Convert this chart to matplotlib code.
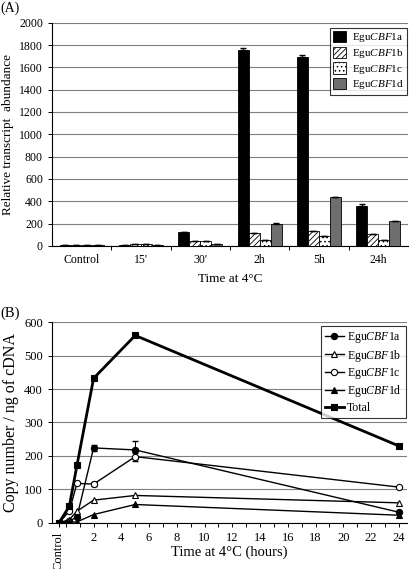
"""
Two-panel figure: EguCBF1 transcript levels during cold exposure.

(A) relative transcript abundance as grouped bars
(B) copy number per ng cDNA as lines over time
"""

import matplotlib.pyplot as plt
import numpy as np


# 1. Fonts

plt.rcParams["font.family"] = ["Liberation Serif", "DejaVu Serif"]
plt.rcParams["mathtext.fontset"] = "custom"
plt.rcParams["mathtext.rm"] = "Liberation Serif"
plt.rcParams["mathtext.it"] = "Liberation Serif:italic"
plt.rcParams["hatch.linewidth"] = 0.6


# 2. Data, panel A

time_labels = ["Control", "15'", "30'", "2h", "5h", "24h"]

gene_labels = [
    r"Egu$\it{CBF}$1a",
    r"Egu$\it{CBF}$1b",
    r"Egu$\it{CBF}$1c",
    r"Egu$\it{CBF}$1d",
]

abundance_1a = [3, 6, 125, 1760, 1690, 360]
abundance_1b = [3, 15, 40, 115, 130, 105]
abundance_1c = [3, 15, 45, 55, 90, 55]
abundance_1d = [3, 8, 15, 200, 435, 225]

error_1a = [0, 0, 0, 15, 25, 15]
error_1b = [0, 0, 0, 0, 0, 0]
error_1c = [0, 0, 0, 0, 0, 0]
error_1d = [0, 0, 0, 5, 6, 0]


# 3. Data, panel B

hours = [-0.5, 0.25, 0.8, 2, 5, 24]

copies_1a = [0, 5, 18, 224, 218, 32]
copies_1b = [0, 10, 35, 68, 82, 60]
copies_1c = [0, 35, 118, 116, 198, 107]
copies_1d = [0, 2, 3, 25, 55, 23]
copies_total = [0, 50, 172, 432, 560, 230]

copies_err_1a = [0, 0, 0, 10, 28, 0]
copies_err_1c = [0, 0, 0, 6, 12, 0]


# 4. Figure layout

fig = plt.figure(figsize=(4.11, 5.69), dpi=100)

ax_a = fig.add_axes([0.1265, 0.568, 0.866, 0.392])
ax_b = fig.add_axes([0.1265, 0.081, 0.864, 0.353])


# 5. Panel A: grouped bars

x = np.arange(len(time_labels))
bar_width = 0.185

bar_series = [
    (abundance_1a, error_1a, dict(facecolor="black", hatch=None)),
    (abundance_1b, error_1b, dict(facecolor="white", hatch="//////")),
    (abundance_1c, error_1c, dict(facecolor="white", hatch="....")),
    (abundance_1d, error_1d, dict(facecolor="#6e6e6e", hatch=None)),
]

for i, (values, errors, style) in enumerate(bar_series):
    positions = x + (i - 1.5) * bar_width
    ax_a.bar(
        positions,
        values,
        width=bar_width,
        edgecolor="black",
        linewidth=0.6,
        label=gene_labels[i],
        zorder=3,
        **style
    )
    upper = np.array(errors)
    ax_a.errorbar(
        positions,
        values,
        yerr=[np.zeros_like(upper), upper],
        fmt="none",
        ecolor="black",
        elinewidth=0.8,
        capsize=2.5,
        zorder=4
    )

ax_a.set_xlim(-0.5, 5.5)
ax_a.set_ylim(0, 2000)
ax_a.set_yticks(np.arange(0, 2001, 200))
ax_a.set_xticks(x)
ax_a.set_xticklabels(time_labels)
ax_a.tick_params(axis="x", length=0, pad=6, labelsize=8.5)
ax_a.set_xticks(np.arange(0.5, 5.5, 1), minor=True)
ax_a.tick_params(axis="x", which="minor", length=3, width=0.7)
ax_a.tick_params(axis="y", length=3, width=0.7, labelsize=8.5)

ax_a.grid(axis="y", color="#7f7f7f", linewidth=0.8, zorder=0)
ax_a.set_axisbelow(True)

for side in ["top", "right"]:
    ax_a.spines[side].set_visible(False)
ax_a.spines["left"].set_linewidth(0.8)
ax_a.spines["bottom"].set_linewidth(0.8)

ax_a.set_xlabel("Time at 4°C", fontsize=9.5, labelpad=5)
ax_a.set_ylabel("Relative transcript  abundance", fontsize=9.5)

legend_a = ax_a.legend(
    loc="upper right",
    bbox_to_anchor=(0.998, 0.978),
    borderaxespad=0,
    fontsize=8,
    frameon=True,
    fancybox=False,
    edgecolor="black",
    handlelength=1.2,
    handleheight=1.2,
    labelspacing=0.2,
    borderpad=0.3,
    handletextpad=0.5
)
legend_a.get_frame().set_linewidth(0.8)


# 6. Panel B: copy number lines

line_series = [
    (copies_1a, "o", "black", 1.0, gene_labels[0]),
    (copies_1b, "^", "white", 1.0, gene_labels[1]),
    (copies_1c, "o", "white", 1.0, gene_labels[2]),
    (copies_1d, "^", "black", 1.0, gene_labels[3]),
    (copies_total, "s", "black", 2.0, "Total"),
]

for values, marker, face, width, label in line_series:
    ax_b.plot(
        hours,
        values,
        color="black",
        linewidth=width,
        marker=marker,
        markersize=4.5,
        markerfacecolor=face,
        markeredgecolor="black",
        markeredgewidth=0.8,
        label=label,
        zorder=3
    )

ax_b.errorbar(
    hours, copies_1a, yerr=copies_err_1a,
    fmt="none", ecolor="black", elinewidth=0.7, capsize=2, zorder=2
)
ax_b.errorbar(
    hours, copies_1c, yerr=copies_err_1c,
    fmt="none", ecolor="black", elinewidth=0.7, capsize=2, zorder=2
)

ax_b.set_xlim(-1, 24.6)
ax_b.set_ylim(0, 600)
ax_b.set_yticks(np.arange(0, 601, 100))
ax_b.set_xticks([-0.5] + list(range(2, 25, 2)))
ax_b.set_xticklabels(["Control"] + [str(h) for h in range(2, 25, 2)])
ax_b.get_xticklabels()[0].set_rotation(90)
ax_b.set_xticks(list(range(1, 24, 2)) + [0], minor=True)
ax_b.tick_params(axis="x", which="both", length=3, width=0.7, labelsize=9)
ax_b.tick_params(axis="y", length=3, width=0.7, labelsize=9)

ax_b.grid(axis="y", color="#7f7f7f", linewidth=0.8, zorder=0)
ax_b.set_axisbelow(True)

for side in ["top", "right"]:
    ax_b.spines[side].set_visible(False)
ax_b.spines["left"].set_linewidth(0.8)
ax_b.spines["bottom"].set_linewidth(0.8)

# the rotated "Control" label is tall, so the x label is placed by hand
fig.text(
    (52 + 407) / 2 / 411,
    1 - 552 / 569,
    "Time at 4°C (hours)",
    fontsize=10.5,
    ha="center",
    va="center"
)
ax_b.set_ylabel("Copy number / ng of cDNA", fontsize=11.5)

legend_b = ax_b.legend(
    loc="upper right",
    bbox_to_anchor=(0.997, 0.98),
    borderaxespad=0,
    fontsize=8.5,
    frameon=True,
    fancybox=False,
    edgecolor="black",
    handlelength=1.6,
    labelspacing=0.2,
    borderpad=0.35,
    handletextpad=0.3
)
legend_b.get_frame().set_linewidth(0.8)


# 7. Panel letters

fig.text(0.0, 0.998, "(A)", fontsize=10, va="top", ha="left")
fig.text(0.0, 0.462, "(B)", fontsize=10.5, va="top", ha="left")


# 8. Save

fig.savefig("out.png", dpi=100)
plt.close(fig)
